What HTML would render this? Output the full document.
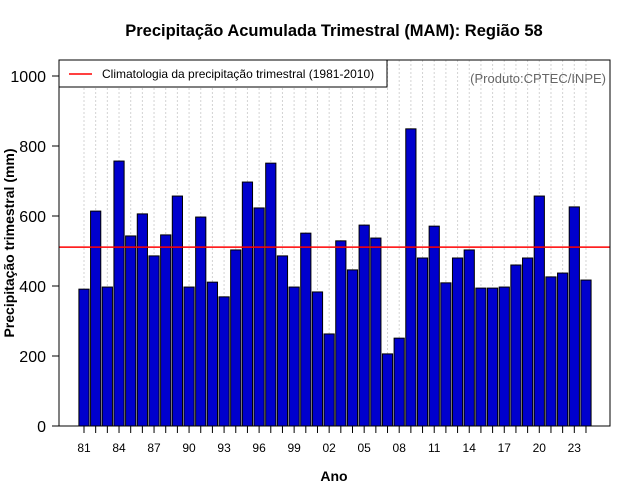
<!DOCTYPE html>
<html><head><meta charset="utf-8"><style>body{margin:0;background:#fff}svg{display:block;font-family:"Liberation Sans",sans-serif}</style></head>
<body>
<svg id="c" width="640" height="500"></svg>
<script>
const years=[];for(let y=1981;y<=2024;y++)years.push(y);
const values=[391,614,397,757,543,606,486,546,657,397,597,411,369,503,697,623,751,486,397,551,383,263,529,446,574,537,206,251,849,480,571,409,480,503,394,394,397,460,480,657,426,437,626,417];
const climatology=511;
const yTicks=[0,200,400,600,800,1000];
const NS='http://www.w3.org/2000/svg';const svg=document.getElementById('c');
function el(t,a,p){const e=document.createElementNS(NS,t);for(const k in a)e.setAttribute(k,a[k]);(p||svg).appendChild(e);return e;}
const L=59,R=610,T=60,B=426;
const x=i=>84+i*11.674;const y=v=>426-v*0.35;
let t=el('text',{x:334,y:36,'text-anchor':'middle','font-size':16.5,'font-weight':'bold'});t.textContent='Precipitação Acumulada Trimestral (MAM): Região 58';

years.forEach((yr,i)=>{const g=el('line',{x1:x(i),x2:x(i),y1:T,y2:B,stroke:'#d3d3d3','stroke-dasharray':'2,2'});
});
years.forEach((yr,i)=>{const r=el('rect',{x:x(i)-5.1,y:y(values[i]),width:10.2,height:values[i]*0.35,fill:'#0000cd',stroke:'#000','stroke-width':1});

const tk=el('line',{x1:x(i),x2:x(i),y1:B,y2:B+7,stroke:'#000'});
if(i%3==0){const lb=el('text',{x:x(i),y:452,'text-anchor':'middle','font-size':12});lb.textContent=String(yr).slice(2);
}});
const cl=el('line',{x1:L,x2:R,y1:y(climatology),y2:y(climatology),stroke:'#ff0000','stroke-width':1.5});

yTicks.forEach(v=>{const tk=el('line',{x1:L-7,x2:L,y1:y(v),y2:y(v),stroke:'#000'});
const lb=el('text',{x:L-13,y:y(v)+6,'text-anchor':'end','font-size':16});lb.textContent=v;});
const bx=el('rect',{x:L,y:T,width:R-L,height:B-T,fill:'none',stroke:'#000'});
const lg=el('g',{});
el('rect',{x:L,y:T,width:328,height:27,fill:'#fff',stroke:'#000'},lg);
el('line',{x1:69,x2:92,y1:74,y2:74,stroke:'#ff0000','stroke-width':1.5},lg);
t=el('text',{x:102,y:78,'font-size':12},lg);t.textContent='Climatologia da precipitação trimestral (1981-2010)';
t=el('text',{x:606,y:83,'text-anchor':'end','font-size':13,fill:'#666'});t.textContent='(Produto:CPTEC/INPE)';
t=el('text',{x:334,y:481,'text-anchor':'middle','font-size':14,'font-weight':'bold'});t.textContent='Ano';
t=el('text',{x:0,y:0,'text-anchor':'middle','font-size':14,'font-weight':'bold',transform:'translate(14,243) rotate(-90)'});t.textContent='Precipitação trimestral (mm)';
</script>
</body></html>
